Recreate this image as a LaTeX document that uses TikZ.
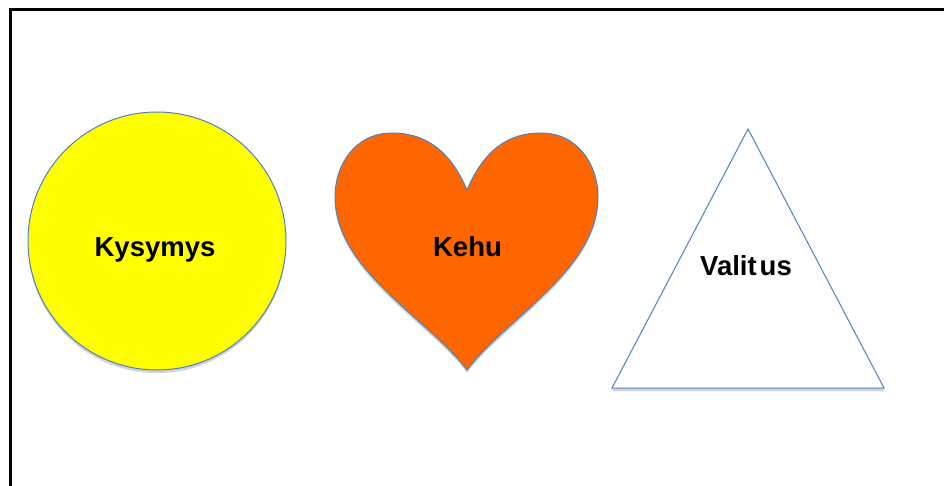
\documentclass[tikz,border=0pt]{standalone}
\usepackage{fontspec}
\setmainfont{Liberation Sans}
\usetikzlibrary{shadows}

\definecolor{shapeblue}{HTML}{4F81BD}
\definecolor{heartorange}{HTML}{FF6600}
\definecolor{circleyellow}{HTML}{FFFF00}

\newcommand*{\wdth}{944}
\newcommand*{\hght}{486}

\begin{document}
\begin{tikzpicture}
[
	x=1pt,y=-1pt,
	outline/.style={draw=shapeblue,line width=1pt},
	shade/.style={drop shadow={shadow xshift=0pt,shadow yshift=-3pt,opacity=0.35,fill=gray}},
	label/.style={font=\fontsize{27.5}{32}\selectfont\bfseries,inner sep=0pt,anchor=base}
]

	\useasboundingbox (0,0) rectangle (\wdth,\hght);
	\clip (0,0) rectangle (\wdth,\hght);

	% frame
	\draw[line width=3.5pt] (10.3,9.6) rectangle (980,520);

	% circle
	\node[circle,outline,fill=circleyellow,shade,minimum size=258pt,inner sep=0pt] (circ) at (157,241) {};
	\node[label] (kysymys) at (155,256.7) {Kysymys};

	% heart
	\path[outline,fill=heartorange,shade]
		(467,190) .. controls (450,150) and (425,133) .. (392,133)
		.. controls (355,133) and (335,165) .. (335,197)
		.. controls (335,270) and (430,320) .. (467,370)
		.. controls (504,320) and (598,270) .. (598,197)
		.. controls (598,165) and (578,133) .. (541,133)
		.. controls (508,133) and (484,150) .. (467,190) -- cycle;
	\node[label] (kehu) at (467.5,256.7) {Kehu};

	% triangle
	\coordinate (top) at (748,129);
	\coordinate (bl) at (612,388);
	\coordinate (br) at (884,388);
	\path[outline,fill=white,shade] (top) -- (bl) -- (br) -- cycle;
	\node[label] (valitus) at (746,275) {Valit\kern3pt us};

\end{tikzpicture}
\end{document}
